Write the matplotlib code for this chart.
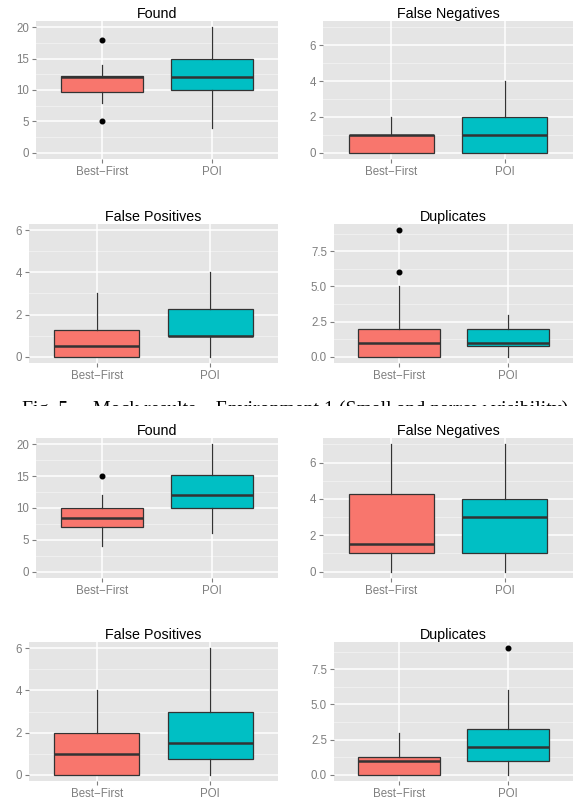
import numpy as np
import matplotlib
matplotlib.use('Agg')
import matplotlib.pyplot as plt
from matplotlib.transforms import Bbox

# box stats: (whisker low, q1, median, q3, whisker high)
methods = ['Best\u2212First', 'POI']
metrics = ['Found', 'False Negatives', 'False Positives', 'Duplicates']

# experiment 1 (top half)
exp1_bf = {'Found': [8, 9.75, 12, 12.25, 14],
           'False Negatives': [0, 0, 1, 1, 2],
           'False Positives': [0, 0, 0.5, 1.25, 3],
           'Duplicates': [0, 0, 1, 2, 5]}
exp1_poi = {'Found': [4, 10, 12, 15, 20],
            'False Negatives': [0, 0, 1, 2, 4],
            'False Positives': [0, 1, 1, 2.25, 4],
            'Duplicates': [0, 0.75, 1, 2, 3]}
exp1_bf_out = {'Found': [18, 5], 'False Negatives': [], 'False Positives': [],
               'Duplicates': [6, 9]}
exp1_poi_out = {'Found': [], 'False Negatives': [], 'False Positives': [],
                'Duplicates': []}

# experiment 2 (bottom half)
exp2_bf = {'Found': [4, 7, 8.5, 10, 12],
           'False Negatives': [0, 1, 1.5, 4.25, 7],
           'False Positives': [0, 0, 1, 2, 4],
           'Duplicates': [0, 0, 1, 1.25, 3]}
exp2_poi = {'Found': [6, 10, 12, 15.25, 20],
            'False Negatives': [0, 1, 3, 4, 7],
            'False Positives': [0, 0.75, 1.5, 3, 6],
            'Duplicates': [0, 1, 2, 3.25, 6]}
exp2_bf_out = {'Found': [15], 'False Negatives': [], 'False Positives': [],
               'Duplicates': []}
exp2_poi_out = {'Found': [], 'False Negatives': [], 'False Positives': [],
                'Duplicates': [9]}

# shared y limits per metric, major ticks and labels
y_max = {'Found': 20, 'False Negatives': 7, 'False Positives': 6, 'Duplicates': 9}
y_ticks = {'Found': [0, 5, 10, 15, 20],
           'False Negatives': [0, 2, 4, 6],
           'False Positives': [0, 2, 4, 6],
           'Duplicates': [0, 2.5, 5, 7.5]}
y_ticklabels = {'Found': ['0', '5', '10', '15', '20'],
                'False Negatives': ['0', '2', '4', '6'],
                'False Positives': ['0', '2', '4', '6'],
                'Duplicates': ['0.0', '2.5', '5.0', '7.5']}

caption = 'Fig. 5.    Mock results \u2013 Environment 1 (Small and narrow visibility)'

colors = ['#F8766D', '#00BFC4']
W, H = 575, 802
plt.rcParams['font.family'] = ['Liberation Sans', 'DejaVu Sans']

fig = plt.figure(figsize=(W / 100, H / 100), dpi=100)


def px_axes(x0, x1, ytop, ybot):
    return fig.add_axes([x0 / W, 1 - ybot / H, (x1 - x0) / W, (ybot - ytop) / H])


def draw_panel(ax, metric, bf, poi, bf_out, poi_out):
    stats = []
    for s, fl in [(bf[metric], bf_out[metric]), (poi[metric], poi_out[metric])]:
        stats.append({'whislo': s[0], 'q1': s[1], 'med': s[2], 'q3': s[3],
                      'whishi': s[4], 'fliers': fl})
    ax.set_facecolor('#E5E5E5')
    top = y_max[metric]
    pad = 0.05 * top
    ax.set_ylim(-pad, top + pad)
    ax.set_xlim(0.4, 2.6)
    # grid: minor grey95, major white
    maj = y_ticks[metric]
    step = maj[1] - maj[0]
    minors = np.arange(maj[0] - step / 2, top + pad, step)
    for m in minors:
        if -pad < m < top + pad:
            ax.axhline(m, color='#F2F2F2', lw=0.6, zorder=0)
    for m in maj:
        ax.axhline(m, color='white', lw=1.1, zorder=0.5)
    for xx in [1, 2]:
        ax.axvline(xx, color='white', lw=1.1, zorder=0.5)
    bp = ax.bxp(stats, positions=[1, 2], widths=0.75, patch_artist=True,
                showcaps=False, manage_ticks=False,
                boxprops=dict(edgecolor='#333333', lw=0.9),
                whiskerprops=dict(color='#333333', lw=0.9),
                medianprops=dict(color='#333333', lw=1.8),
                flierprops=dict(marker='o', markerfacecolor='black',
                                markeredgecolor='black', markersize=3.3))
    for patch, c in zip(bp['boxes'], colors):
        patch.set_facecolor(c)
        patch.set_zorder(2)
    ax.set_xticks([1, 2])
    ax.set_xticklabels(methods)
    ax.set_yticks(maj)
    ax.set_yticklabels(y_ticklabels[metric])
    ax.tick_params(axis='both', colors='#7F7F7F', labelcolor='#7F7F7F',
                   labelsize=8.3, length=3, width=0.8, pad=2)
    for sp in ax.spines.values():
        sp.set_visible(False)
    ax.set_title(metric, fontsize=10.3, color='black', pad=2.5)


layout = [
    [(36, 278, 21, 159), (323, 573, 21, 159)],
    [(29, 278, 224, 363), (334, 573, 224, 363)],
    [(36, 278, 438, 578), (323, 573, 438, 578)],
    [(29, 278, 642, 781), (334, 573, 642, 781)],
]

sets = [(exp1_bf, exp1_poi, exp1_bf_out, exp1_poi_out),
        (exp2_bf, exp2_poi, exp2_bf_out, exp2_poi_out)]

for e, (bf, poi, bfo, poio) in enumerate(sets):
    for i, metric in enumerate(metrics):
        r = e * 2 + i // 2
        c = i % 2
        ax = px_axes(*layout[r][c])
        draw_panel(ax, metric, bf, poi, bfo, poio)

# caption of the page, cut off by the lower figure
t = fig.text(22 / W, 1 - 400 / H, caption, ha='left', va='top',
             fontsize=14.2, family='Liberation Serif', color='black')
t.set_clip_box(Bbox.from_extents(0, H - 406, W, H))
t.set_clip_on(True)

fig.savefig('out.png', dpi=100)
